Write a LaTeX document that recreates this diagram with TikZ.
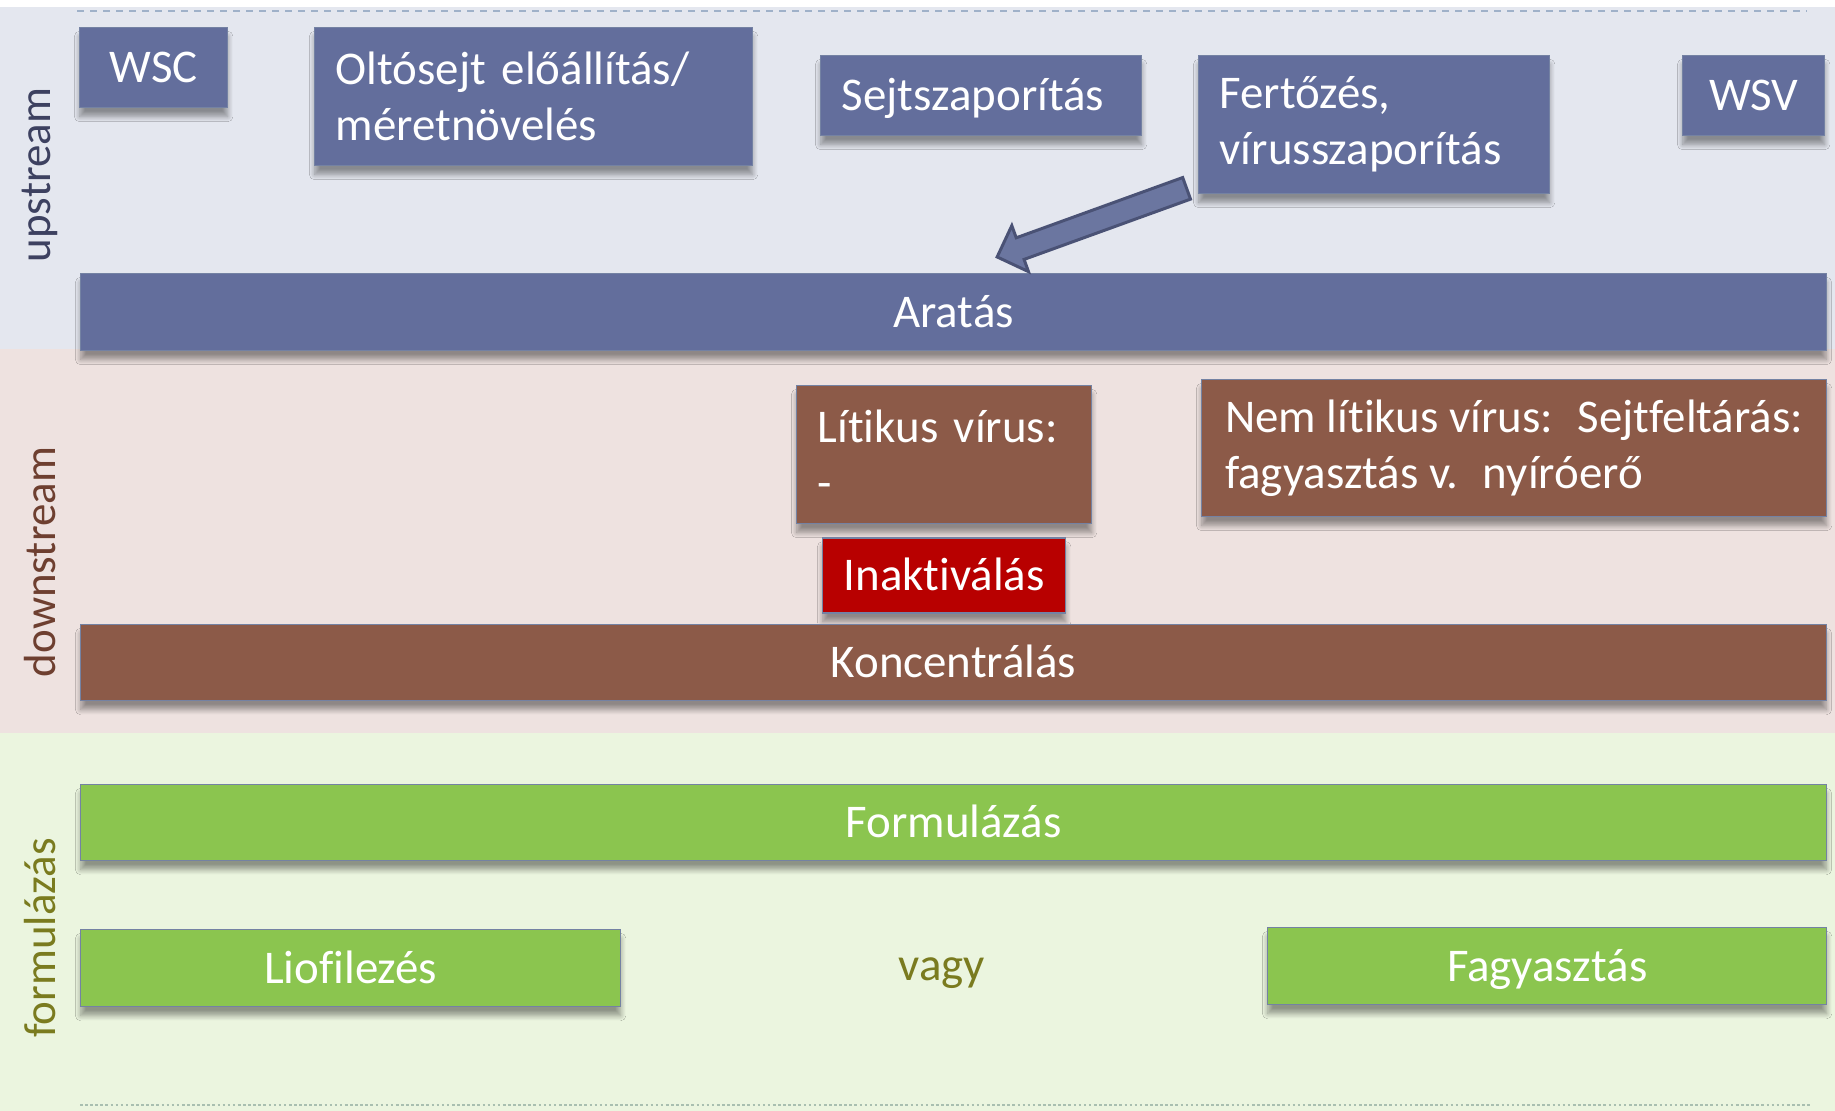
\documentclass[tikz,border=0pt]{standalone}
\usepackage{fontspec}
\setmainfont{Carlito}[Ligatures=NoCommon]
\usetikzlibrary{positioning, calc, shapes.arrows, shadows.blur}

\definecolor{upband}{HTML}{E4E7EF}
\definecolor{downband}{HTML}{EEE2E0}
\definecolor{formband}{HTML}{EBF5DF}
\definecolor{upbox}{HTML}{636E9C}
\definecolor{downbox}{HTML}{8C5A48}
\definecolor{inaktred}{HTML}{B80000}
\definecolor{formbox}{HTML}{8BC54F}
\definecolor{uplabel}{HTML}{3D4160}
\definecolor{downlabel}{HTML}{6E3F30}
\definecolor{formlabel}{HTML}{7A7B1F}
\definecolor{boxedge}{HTML}{7482A3}
\definecolor{arrowedge}{HTML}{4A5275}
\definecolor{arrowfill}{HTML}{6B76A0}
\definecolor{topdash}{HTML}{9FB1C9}
\definecolor{bottomdots}{HTML}{A9BFB0}

\newcommand{\boxfont}{\fontsize{26.7pt}{31.9pt}\selectfont}
\newcommand{\sidefont}{\fontsize{25.6pt}{30pt}\selectfont}

\begin{document}
\begin{tikzpicture}[
    x=0.02cm, y=-0.02cm,
    stage/.style={rectangle, draw=boxedge, line width=0.8pt, fill=#1, text=white, font=\boxfont,
        inner xsep=0.42cm, inner ysep=0pt, anchor=north west,
        blur shadow={shadow xshift=0pt, shadow yshift=-5pt, shadow blur radius=3pt, shadow blur steps=10, shadow opacity=40}},
    oneline/.style={text height=0.7cm, text depth=0.1cm},
    wide/.style={stage=#1, oneline, minimum width=34.92cm, minimum height=1.52cm},
    side/.style={rotate=90, font=\sidefont, text=#1},
    flowarrow/.style={single arrow, draw=arrowedge, line width=1.7pt, fill=arrowfill,
        inner xsep=0pt, inner ysep=0.2cm, single arrow head extend=0.26cm}
]
    \useasboundingbox (0,0) rectangle (1835,1111);

    % Bands
    \fill[white] (0,0) rectangle (1835,7);
    \fill[upband] (0,7) rectangle (1835,349);
    \fill[downband] (0,349) rectangle (1835,733);
    \fill[formband] (0,733) rectangle (1835,1111);
    \draw[topdash, line width=1.1pt, dash pattern=on 4pt off 3.4pt] (77,11) -- (1807,11);
    \draw[bottomdots, line width=1.5pt, dash pattern=on 1.5pt off 1.4pt] (80,1105) -- (1810,1105);

    % Side labels
    \node[side=uplabel] (upstream) at (40,175) {upstream};
    \node[side=downlabel] (downstream) at (40,562) {downstream};
    \node[side=formlabel] (formulazas) at (40,938) {formulázás};

    % Upstream
    \node[stage=upbox, oneline, minimum width=2.96cm, minimum height=1.6cm] (wsc) at (79,27) {WSC};
    \node[stage=upbox, text width=7.92cm, minimum height=2.76cm, align=left] (oltosejt) at (314,27) {Oltósejt előállítás/\\méretnövelés};
    \node[stage=upbox, oneline, text width=5.58cm, minimum height=1.6cm, align=left] (sejt) at (820,55) {Sejtszaporítás};
    \node[stage=upbox, text width=6.18cm, minimum height=2.76cm, align=left] (fert) at (1198,55) {Fertőzés,\\vírusszaporítás};
    \node[stage=upbox, oneline, minimum width=2.84cm, minimum height=1.6cm] (wsv) at (1682,55) {WSV};
    \node[wide=upbox, minimum height=1.54cm] (aratas) at (80,273) {Aratás};

    % Downstream
    \node[stage=downbox, text width=5.06cm, minimum height=2.76cm, align=left] (litikus) at (796,385) {Lítikus vírus:\\-};
    \node[stage=downbox, minimum width=12.5cm, minimum height=2.74cm, align=left] (nemlitikus) at (1201,379) {Nem lítikus vírus:~ Sejtfeltárás:\\fagyasztás v.~ nyíróerő};
    \node[stage=inaktred, oneline, minimum width=4.74cm, minimum height=1.5cm, below=0.26cm of litikus, anchor=north] (inakt) {Inaktiválás};
    \node[wide=downbox] (konc) at (80,624) {Koncentrálás};

    % Formulation
    \node[wide=formbox] (form) at (80,784) {Formulázás};
    \node[stage=formbox, oneline, minimum width=10.8cm, minimum height=1.54cm] (lio) at (80,929) {Liofilezés};
    \node[stage=formbox, oneline, minimum width=11.18cm, minimum height=1.54cm] (fagy) at (1267,927) {Fagyasztás};
    \node[font=\boxfont, oneline, text=formlabel] (vagy) at (942,965) {vagy};

    % Edges
    \coordinate (flowtail) at ($(fert.south west)+(-6,-8)$);
    \coordinate (flowtip) at ($(aratas.north)+(49,-18)$);
    \path let \p1=($(flowtip)-(flowtail)$) in
        node[flowarrow, rotate={atan2(\y1,\x1)}, minimum height={veclen(\x1,\y1)}] (flow) at ($(flowtail)!0.5!(flowtip)$) {};
\end{tikzpicture}
\end{document}
